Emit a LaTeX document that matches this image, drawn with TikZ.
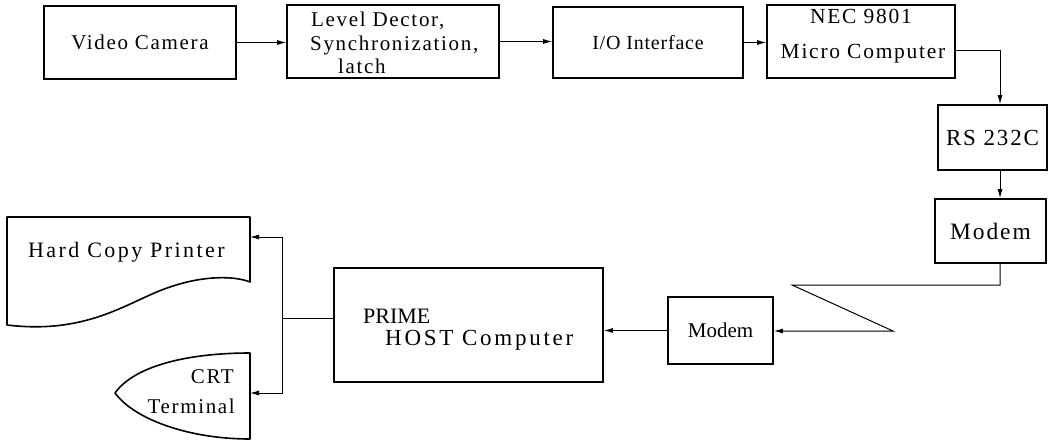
\documentclass[tikz,border=0pt]{standalone}
\usepackage{fontspec}
\setmainfont{Liberation Serif}[LetterSpace=8]
\usetikzlibrary{arrows.meta}
\newcommand\fsz[1]{\fontsize{#1}{#1}\selectfont}
\begin{document}
\begin{tikzpicture}[x=1pt,y=-1pt,
  box/.style={draw, line width=1.6pt, inner sep=0pt, font=\fsz{21}},
  lbl/.style={inner sep=0pt, font=\fsz{21}},
  outline/.style={draw, line width=1.6pt, line join=round},
  conn/.style={line width=1pt, -{Latex[length=9pt,width=5pt]}},
  plain/.style={line width=1pt}]
\useasboundingbox (0,0) rectangle (1049,441);

% top row
\node[box, minimum width=192pt, minimum height=73pt] (vc) at (140,42.5) {Video Camera};
\node[box, minimum width=212pt, minimum height=73pt] (ld) at (393,41.5) {};
\node[lbl, anchor=base west] (ld1) at (311,27) {Level Dector,};
\node[lbl, anchor=base west] (ld2) at (310,51) {Synchronization,};
\node[lbl, anchor=base west] (ld3) at (338,74) {latch};
\node[box, minimum width=190pt, minimum height=71pt, font=\fsz{20}\addfontfeatures{LetterSpace=4}] (io) at (648,42.5) {I/O Interface};
\node[box, minimum width=188pt, minimum height=73pt] (nec) at (861,41.5) {};
\node[lbl, anchor=base, font=\fsz{21.5}] (nec1) at (861,24) {NEC 9801};
\node[lbl, anchor=base, font=\fsz{21.5}] (nec2) at (863,59) {Micro Computer};

% right column
\node[box, minimum width=109pt, minimum height=65pt, font=\fsz{23}] (rs) at (992.5,137.5) {RS 232C};
\node[box, minimum width=111pt, minimum height=64pt, font=\fsz{23.5}] (mA) at (990.5,231) {Modem};

% bottom row
\node[box, minimum width=105pt, minimum height=67pt, font=\fsz{21}\addfontfeatures{LetterSpace=0}] (mB) at (720.5,330.5) {Modem};
\node[box, minimum width=269pt, minimum height=114pt] (prime) at (468.5,325) {};
\node[lbl, anchor=base west, font=\fsz{22}\addfontfeatures{LetterSpace=0}] (p1) at (363,323) {PRIME};
\node[lbl, anchor=base west, font=\fsz{23}\addfontfeatures{LetterSpace=12}] (p2) at (385,345) {HOST Computer};

% hard copy printer
\draw[outline] (7,217) -- (250,217) -- (250,282)
  .. controls (235,276) and (205,275) .. (170,287)
  .. controls (130,300) and (90,335) .. (7,325) -- cycle;
\node[lbl, anchor=base west, font=\fsz{22}\addfontfeatures{LetterSpace=11}] (hcp) at (28,257) {Hard Copy Printer};

% CRT terminal
\draw[outline] (250,353) -- (250,439)
  .. controls (190,439) and (135,420) .. (115,393)
  .. controls (135,365) and (190,353) .. cycle;
\node[lbl, anchor=base east] (crt1) at (234,383) {CRT};
\node[lbl, anchor=base east] (crt2) at (235,413) {Terminal};

% helper coordinates
\coordinate (prn) at (250,237);
\coordinate (crt) at (250,393);
\coordinate (bj) at (282,318);
\coordinate (colx) at (1000,0);
\coordinate (z1) at (1000,285);
\coordinate (z2) at (792,285);
\coordinate (z3) at (893,331);

% connectors
\draw[conn] (vc.east) -- (vc.east -| ld.west);
\draw[conn] (ld.east) -- (ld.east -| io.west);
\draw[conn] (io.east) -- (io.east -| nec.west);
\draw[conn] ([yshift=-9pt]nec.east) -| (rs.north -| colx);
\draw[conn] (rs.south -| colx) -- (mA.north -| colx);
\draw[conn] (mA.south -| colx) -- (z1) -- (z2) -- (z3) -- (z3 -| mB.east);
\draw[conn] (mB.west) -- (mB.west -| prime.east);
\draw[plain] (prime.west |- bj) -- (bj);
\draw[conn] (bj) |- (prn);
\draw[conn] (bj) |- (crt);
\end{tikzpicture}
\end{document}
